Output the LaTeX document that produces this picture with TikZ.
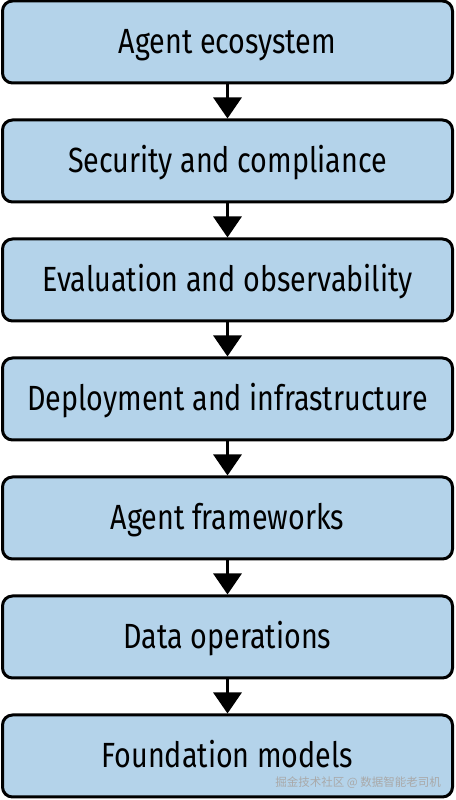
\documentclass[tikz,border=0pt]{standalone}
\usepackage{fontspec}
\setmainfont{Fira Sans}[FakeStretch=0.82]
\newfontfamily\cjkfont{Noto Sans CJK SC}
\usetikzlibrary{arrows.meta}

\begin{document}
\begin{tikzpicture}[x=1pt, y=1pt]

\definecolor{layerfill}{HTML}{B4D3EA}
\definecolor{layerink}{HTML}{000000}
\definecolor{markgray}{HTML}{A9A9A9}

\tikzset{
  layer/.style={
    rectangle, rounded corners=10pt, draw=layerink, fill=layerfill,
    line width=3pt, minimum width=450pt, minimum height=82pt,
    inner sep=0pt, text height=24pt, text depth=0pt,
    font=\fontsize{35}{40}\selectfont
  },
  stackedge/.style={
    draw=layerink, line width=3pt, -{Triangle[length=21pt,width=28pt]}
  }
}

\useasboundingbox (0,0) rectangle (455,800);

% Layers, top of the stack first.
\node[layer] (eco)   at (227.5,758) {Agent ecosystem};
\node[layer] (sec)   at (227.5,639) {Security and compliance};
\node[layer] (eval)  at (227.5,520) {Evaluation and observability};
\node[layer] (dep)   at (227.5,401) {Deployment and infrastructure};
\node[layer] (frame) at (227.5,282) {Agent frameworks};
\node[layer] (data)  at (227.5,163) {Data operations};
\node[layer] (found) at (227.5,44)  {Foundation models};

% Each layer points down to the next one.
\foreach \from/\to in {eco/sec,sec/eval,eval/dep,dep/frame,frame/data,data/found}
  \draw[stackedge] (\from.south) -- (\to.north);

% Watermark.
\node[anchor=south east, text=markgray, font=\cjkfont\fontsize{11.5}{13}\selectfont, inner sep=0pt]
  (mark) at (441,11) {掘金技术社区 @ 数据智能老司机};

\end{tikzpicture}
\end{document}
